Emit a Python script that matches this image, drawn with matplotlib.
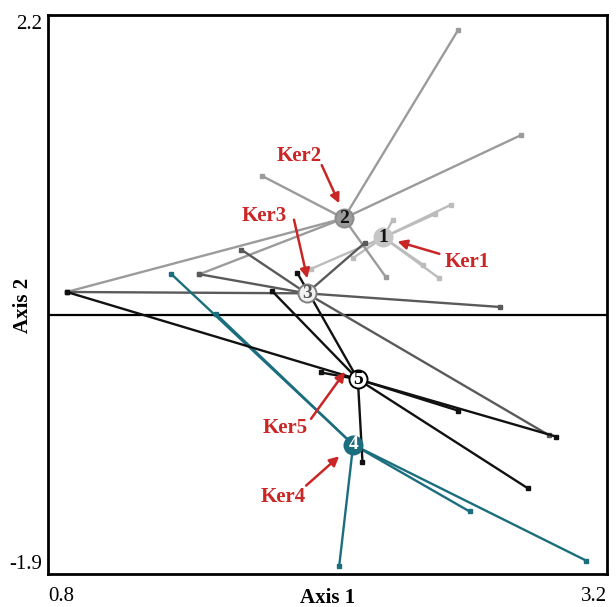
import matplotlib
matplotlib.use('Agg')
import matplotlib.pyplot as plt

plt.rcParams['font.family'] = ['Liberation Serif', 'DejaVu Serif']

# kernel centroids (Axis 1, Axis 2)
Cent_name = ['1', '2', '3', '4', '5']
Cent_x = [2.24, 2.07, 1.91, 2.11, 2.13]
Cent_y = [0.57, 0.71, 0.16, -0.95, -0.47]

# samples belonging to each kernel
Ker1_x = [2.53, 2.46, 2.28, 2.48, 2.41, 2.11, 1.93]
Ker1_y = [0.81, 0.74, 0.70, 0.27, 0.37, 0.42, 0.34]
Ker2_x = [2.56, 2.83, 1.72, 0.88, 1.45, 2.25]
Ker2_y = [2.09, 1.32, 1.02, 0.17, 0.30, 0.28]
Ker3_x = [0.88, 1.45, 1.63, 2.16, 2.74, 2.95]
Ker3_y = [0.17, 0.30, 0.48, 0.53, 0.06, -0.88]
Ker4_x = [1.33, 1.52, 2.05, 2.61, 3.11]
Ker4_y = [0.30, 0.01, -1.84, -1.44, -1.80]
Ker5_x = [1.87, 1.76, 0.88, 1.97, 2.15, 2.56, 2.86, 2.98]
Ker5_y = [0.31, 0.18, 0.17, -0.42, -1.08, -0.70, -1.27, -0.89]

Members = [(Ker1_x, Ker1_y), (Ker2_x, Ker2_y), (Ker3_x, Ker3_y),
           (Ker4_x, Ker4_y), (Ker5_x, Ker5_y)]

# red call-outs: label, text position, arrow tail, arrow tip
Note_text = ['Ker1', 'Ker2', 'Ker3', 'Ker4', 'Ker5']
Note_pos = [(2.60, 0.39), (1.88, 1.17), (1.73, 0.73), (1.81, -1.33), (1.82, -0.83)]
Note_tail = [(2.48, 0.45), (1.975, 1.10), (1.856, 0.70), (1.908, -1.25), (1.929, -0.76)]
Note_tip = [(2.30, 0.54), (2.05, 0.82), (1.913, 0.27), (2.05, -1.035), (2.075, -0.415)]

Line_color = ['#bcbcbc', '#9b9b9b', '#5a5a5a', '#1b6e7e', '#111111']
Face_color = ['#c6c6c6', '#9b9b9b', '#f2f2f2', '#1b6e7e', '#ffffff']
Edge_color = ['#c6c6c6', '#8c8c8c', '#808080', '#1b6e7e', '#000000']
Num_color = ['#111111', '#111111', '#555555', '#ffffff', '#000000']
Red = '#c92626'


def plotSpider():
    fig = plt.figure(figsize=(6.16, 6.07), dpi=100)
    ax = fig.add_axes([0.078, 0.054, 0.9075, 0.921])
    ax.axhline(0, color='black', lw=1.6, zorder=1)

    for ind, (xs, ys) in enumerate(Members):
        cx, cy = Cent_x[ind], Cent_y[ind]
        for x, y in zip(xs, ys):
            ax.plot([cx, x], [cy, y], color=Line_color[ind], lw=1.7, zorder=2 + ind * 0.1)
        ax.plot(xs, ys, 's', color=Line_color[ind], ms=2.8, zorder=2 + ind * 0.1)

    for ind, name in enumerate(Cent_name):
        ax.plot(Cent_x[ind], Cent_y[ind], 'o', ms=13, mfc=Face_color[ind],
                mec=Edge_color[ind], mew=1.4, zorder=5)
        ax.text(Cent_x[ind], Cent_y[ind], name, ha='center', va='center',
                fontsize=14, fontweight='bold', color=Num_color[ind], zorder=6)

    for ind, txt in enumerate(Note_text):
        ax.text(Note_pos[ind][0], Note_pos[ind][1], txt, ha='center', va='center',
                fontsize=15, fontweight='bold', color=Red, zorder=7)
        ax.annotate('', xy=Note_tip[ind], xytext=Note_tail[ind],
                    arrowprops=dict(arrowstyle='-|>', color=Red, lw=1.8,
                                    mutation_scale=14, shrinkA=0, shrinkB=0),
                    zorder=7)

    ax.set_xlim(0.8, 3.2)
    ax.set_ylim(-1.9, 2.2)
    for side in ax.spines.values():
        side.set_linewidth(2.0)
    ax.set_xticks([0.8, 3.2])
    ax.set_xticklabels(['0.8', '3.2'], fontsize=15)
    ax.set_yticks([-1.9, 2.2])
    ax.set_yticklabels(['-1.9', '2.2'], fontsize=15)
    ax.tick_params(length=0)
    ax.tick_params(axis='x', pad=9)
    ax.tick_params(axis='y', pad=4)
    xl = ax.get_xticklabels()
    xl[0].set_ha('left')
    xl[1].set_ha('right')
    yl = ax.get_yticklabels()
    yl[0].set_va('bottom')
    yl[1].set_va('top')

    ax.set_xlabel('Axis 1', fontsize=15, fontweight='bold')
    ax.set_ylabel('Axis 2', fontsize=15, fontweight='bold')
    ax.xaxis.set_label_coords(0.5, -0.025)
    ax.yaxis.set_label_coords(-0.027, 0.481)
    return fig


def main():
    fig = plotSpider()
    fig.savefig('out.png', dpi=100)


if __name__ == '__main__':
    main()
